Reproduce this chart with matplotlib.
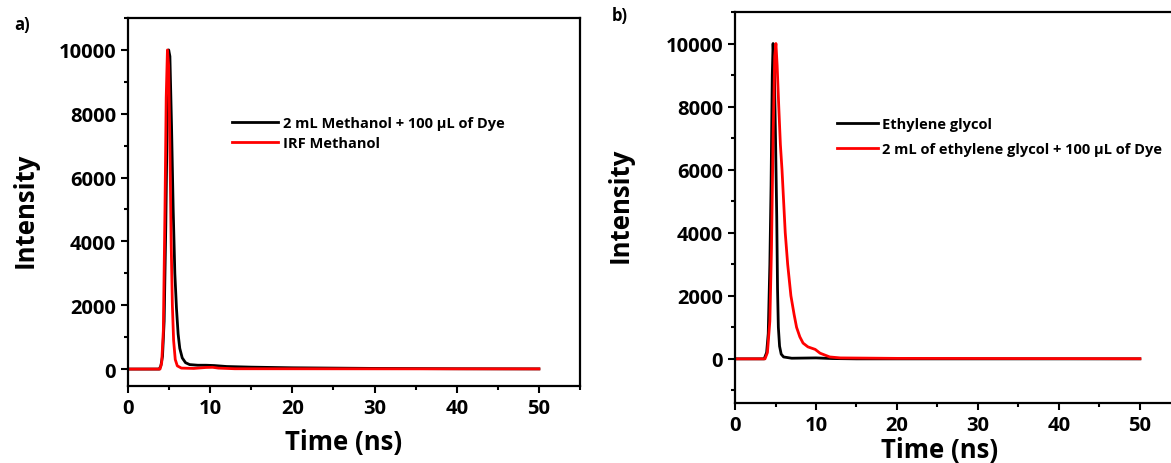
import matplotlib.pyplot as plt
from matplotlib.ticker import MultipleLocator

plt.rcParams['font.family'] = ['Open Sans', 'DejaVu Sans']
plt.rcParams['font.weight'] = 'bold'

# (a) methanol: sample decay and instrument response
t_meoh_dye = [0, 3.8, 4.0, 4.2, 4.4, 4.6, 4.8, 4.95, 5.1, 5.3, 5.5, 5.7, 5.9, 6.1,
              6.3, 6.6, 7.0, 7.5, 8.5, 9.5, 10.5, 12, 15, 20, 25, 30, 40, 50]
i_meoh_dye = [0, 0, 100, 400, 1500, 4500, 8500, 10000, 9800, 7600, 5000, 3000, 1900, 1100,
              650, 350, 200, 140, 120, 120, 110, 80, 60, 40, 30, 20, 10, 5]

t_irf_meoh = [0, 3.9, 4.1, 4.3, 4.5, 4.65, 4.8, 4.95, 5.1, 5.25, 5.4, 5.55, 5.75,
              6.0, 6.5, 8, 9.5, 10.3, 11, 13, 50]
i_irf_meoh = [0, 0, 200, 1200, 5000, 8500, 10000, 9500, 7000, 4000, 2000, 900, 300,
              100, 30, 20, 50, 55, 30, 10, 5]

# (b) ethylene glycol
t_eg = [0, 3.6, 3.9, 4.1, 4.3, 4.45, 4.6, 4.7, 4.85, 5.0, 5.15, 5.25, 5.35, 5.5,
        5.7, 6.0, 7, 10, 12, 15, 50]
i_eg = [0, 0, 200, 800, 3000, 5500, 9000, 10000, 9200, 7000, 4500, 2200, 1000, 400,
        150, 60, 20, 30, 10, 0, 0]

t_eg_dye = [0, 3.7, 4.0, 4.3, 4.5, 4.7, 4.9, 5.05, 5.2, 5.4, 5.6, 5.8, 6.0, 6.2, 6.5,
            6.9, 7.3, 7.6, 8.0, 8.4, 9.0, 9.9, 10.5, 11.7, 13, 20, 50]
i_eg_dye = [0, 0, 200, 1200, 3500, 7000, 9600, 10000, 9300, 8000, 6800, 6000, 5000,
            4000, 3000, 2000, 1400, 1000, 700, 500, 380, 300, 180, 60, 30, 15, 5]

fig = plt.figure(figsize=(11.71, 4.64), dpi=100)
ax1 = fig.add_axes([0.1093, 0.166, 0.386, 0.793])
ax2 = fig.add_axes([0.6277, 0.1293, 0.3803, 0.8427])


def style(ax, ylo, xlab_pos, ylab_pos):
    ax.set_xlim(0, 55)
    ax.set_ylim(ylo, 11000)
    ax.xaxis.set_major_locator(MultipleLocator(10))
    ax.xaxis.set_minor_locator(MultipleLocator(5))
    ax.yaxis.set_major_locator(MultipleLocator(2000))
    ax.yaxis.set_minor_locator(MultipleLocator(1000))
    ax.tick_params(which='major', direction='out', length=5, width=1.5, labelsize=14.5)
    ax.tick_params(which='minor', direction='out', length=3, width=1.5)
    for s in ax.spines.values():
        s.set_linewidth(1.6)
    for lab in ax.get_xticklabels() + ax.get_yticklabels():
        lab.set_fontweight('bold')
    ax.set_xlabel('Time (ns)', fontsize=18.5, fontweight='bold', va='center')
    ax.set_ylabel('Intensity', fontsize=18.5, fontweight='bold', va='center')
    ax.xaxis.set_label_coords(*xlab_pos)
    ax.yaxis.set_label_coords(*ylab_pos)


ax1.plot(t_meoh_dye, i_meoh_dye, color='black', lw=2, label='2 mL Methanol + 100 μL of Dye')
ax1.plot(t_irf_meoh, i_irf_meoh, color='red', lw=2, label='IRF Methanol')
style(ax1, -530, (0.476, -0.152), (-0.228, 0.481))
ax1.legend(loc='upper left', bbox_to_anchor=(0.2, 0.77), frameon=False,
           prop={'size': 10.5, 'weight': 'bold'}, handlelength=3.2, handletextpad=0.3,
           labelspacing=0.45)

ax2.plot(t_eg, i_eg, color='black', lw=2, label='Ethylene glycol')
ax2.plot(t_eg_dye, i_eg_dye, color='red', lw=2,
         label='2 mL of ethylene glycol + 100 μL of Dye')
style(ax2, -1400, (0.46, -0.118), (-0.258, 0.509))
ax2.legend(loc='upper left', bbox_to_anchor=(0.2, 0.765), frameon=False,
           prop={'size': 10.5, 'weight': 'bold'}, handlelength=2.8, handletextpad=0.3,
           labelspacing=0.75)

fig.text(0.012, 0.935, 'a)', fontsize=12, fontweight='bold')
fig.text(0.522, 0.955, 'b)', fontsize=12, fontweight='bold')

fig.savefig('out.png', dpi=100)
